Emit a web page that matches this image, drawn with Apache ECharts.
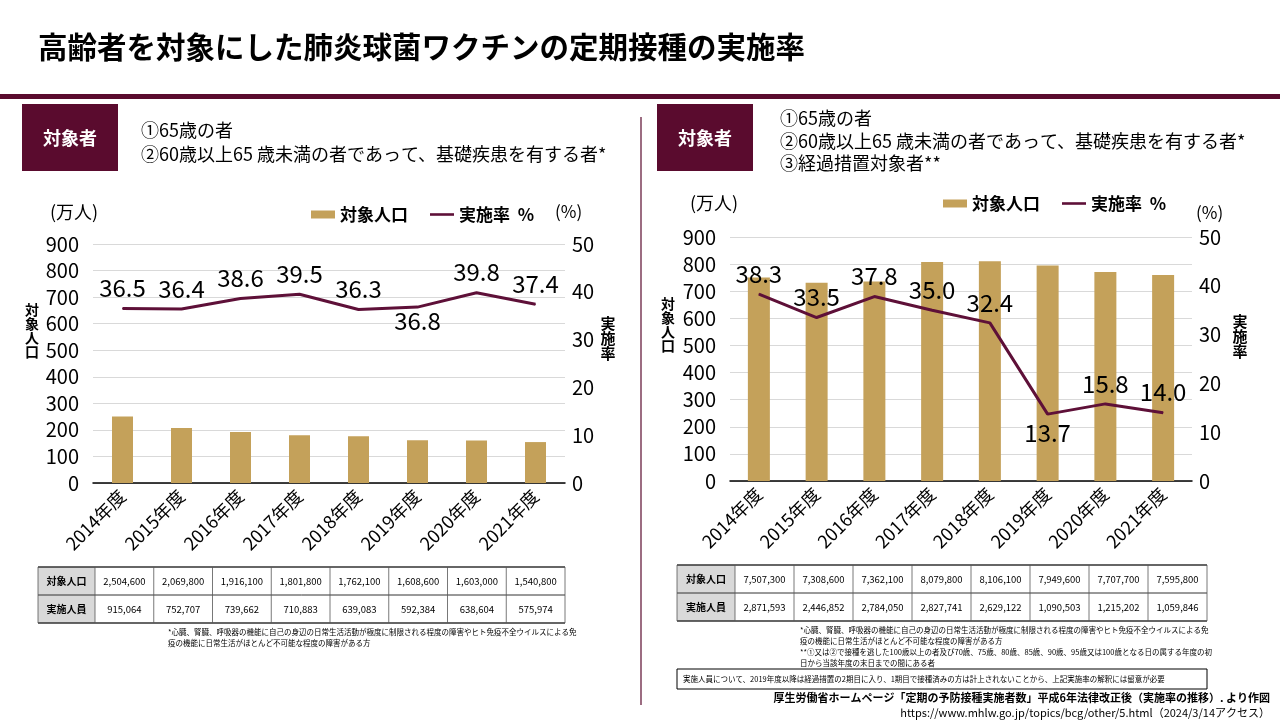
<!DOCTYPE html>
<html><head><meta charset="utf-8">
<script src="https://cdn.jsdelivr.net/npm/echarts@6/dist/echarts.min.js"></script>
<style>html,body{margin:0;padding:0;background:#fff}#c{width:1280px;height:720px}</style>
</head><body><div id="c"></div>
<script>
// ---------- data ----------
const categories = ['2014年度','2015年度','2016年度','2017年度','2018年度','2019年度','2020年度','2021年度'];
const leftPopulation = [250.5, 207.0, 191.6, 180.2, 176.2, 160.9, 160.3, 154.1];   // 万人
const leftRate = [36.5, 36.4, 38.6, 39.5, 36.3, 36.8, 39.8, 37.4];                  // %
const rightPopulation = [750.7, 730.9, 736.2, 808.0, 810.6, 795.0, 770.8, 759.6];  // 万人
const rightRate = [38.3, 33.5, 37.8, 35.0, 32.4, 13.7, 15.8, 14.0];                 // %
const leftLabelBelow = [5];
const rightLabelBelow = [5];
const leftAxisTicks = [0, 900, 100];
const rateAxisTicks = [0, 50, 10];
const tableRowNames = ['対象人口', '実施人員'];
const leftTablePop = ['2,504,600','2,069,800','1,916,100','1,801,800','1,762,100','1,608,600','1,603,000','1,540,800'];
const leftTableDone = ['915,064','752,707','739,662','710,883','639,083','592,384','638,604','575,974'];
const rightTablePop = ['7,507,300','7,308,600','7,362,100','8,079,800','8,106,100','7,949,600','7,707,700','7,595,800'];
const rightTableDone = ['2,871,593','2,446,852','2,784,050','2,827,741','2,629,122','1,090,503','1,215,202','1,059,846'];

// ---------- styles ----------
const FONT = '"Noto Sans CJK JP", "Noto Sans", sans-serif';
const MAROON = '#5a0b2e';
const GOLD = '#c4a15a';
const LINE = '#5e1038';
const BAR_NAME = '対象人口';
const LINE_NAME = '実施率  %';

function rateData(vals, below, dist) {
  return vals.map((v, i) => below.includes(i)
    ? { value: v, label: { position: 'bottom', distance: dist } }
    : v);
}

function txt(x, y, text, font, opts) {
  return { type: 'text', x: x, y: y, silent: true,
    style: Object.assign({ text: text, font: font, fill: '#000' }, opts || {}) };
}

function table(x0, y0, w0, wc, h, rows) {
  const els = [];
  const n = rows[0][1].length;
  const W = w0 + wc * n;
  rows.forEach((r, ri) => {
    const y = y0 + ri * h;
    els.push({ type: 'rect', silent: true, shape: { x: x0, y: y, width: w0, height: h }, style: { fill: '#d9d9d9' } });
    els.push(txt(x0 + w0 / 2, y + h / 2, r[0], 'bold 10px ' + FONT, { align: 'center', verticalAlign: 'middle' }));
    r[1].forEach((v, ci) => {
      els.push(txt(x0 + w0 + wc * ci + wc / 2, y + h / 2, v, '9.5px ' + FONT, { align: 'center', verticalAlign: 'middle' }));
    });
  });
  for (let k = 0; k <= rows.length; k++) {
    els.push({ type: 'line', silent: true, shape: { x1: x0, y1: y0 + k * h, x2: x0 + W, y2: y0 + k * h },
      style: { stroke: '#333', lineWidth: (k === 0 || k === rows.length) ? 1.5 : 1 } });
  }
  for (let c = 0; c <= n + 1; c++) {
    const x = c === 0 ? x0 : x0 + w0 + wc * (c - 1);
    els.push({ type: 'line', silent: true, shape: { x1: x, y1: y0, x2: x, y2: y0 + rows.length * h },
      style: { stroke: '#555', lineWidth: 0.8 } });
  }
  return els;
}

const graphics = [
  txt(38, 47, '高齢者を対象にした肺炎球菌ワクチンの定期接種の実施率', 'bold 29.5px ' + FONT, { verticalAlign: 'middle' }),
  { type: 'rect', silent: true, shape: { x: 0, y: 94, width: 1280, height: 5 }, style: { fill: MAROON } },
  { type: 'line', silent: true, shape: { x1: 641, y1: 117, x2: 641, y2: 705 }, style: { stroke: MAROON, lineWidth: 1.2 } },
  // left header
  { type: 'rect', silent: true, shape: { x: 22, y: 104, width: 96, height: 67 }, style: { fill: MAROON } },
  txt(70, 138, '対象者', 'bold 18px ' + FONT, { fill: '#fff', align: 'center', verticalAlign: 'middle' }),
  txt(141, 130, '①65歳の者', '18px ' + FONT, { verticalAlign: 'middle' }),
  txt(141, 154, '②60歳以上65 歳未満の者であって、基礎疾患を有する者*', '18px ' + FONT, { verticalAlign: 'middle' }),
  // right header
  { type: 'rect', silent: true, shape: { x: 657, y: 104, width: 96, height: 67 }, style: { fill: MAROON } },
  txt(705, 138, '対象者', 'bold 18px ' + FONT, { fill: '#fff', align: 'center', verticalAlign: 'middle' }),
  txt(780, 118, '①65歳の者', '18px ' + FONT, { verticalAlign: 'middle' }),
  txt(780, 141, '②60歳以上65 歳未満の者であって、基礎疾患を有する者*', '18px ' + FONT, { verticalAlign: 'middle' }),
  txt(780, 163, '③経過措置対象者**', '18px ' + FONT, { verticalAlign: 'middle' }),
  // axis units / names
  txt(50, 212, '(万人)', '18px ' + FONT, { verticalAlign: 'middle' }),
  txt(555, 212, '(%)', '17px ' + FONT, { verticalAlign: 'middle' }),
  txt(32, 303, '対\n象\n人\n口', 'bold 14px ' + FONT, { align: 'center', lineHeight: 14 }),
  txt(608, 316, '実\n施\n率', 'bold 15px ' + FONT, { align: 'center', lineHeight: 15 }),
  txt(690, 203, '(万人)', '18px ' + FONT, { verticalAlign: 'middle' }),
  txt(1196, 213, '(%)', '17px ' + FONT, { verticalAlign: 'middle' }),
  txt(668, 297, '対\n象\n人\n口', 'bold 14px ' + FONT, { align: 'center', lineHeight: 14 }),
  txt(1240, 314, '実\n施\n率', 'bold 15px ' + FONT, { align: 'center', lineHeight: 15 }),
  // footnotes
  txt(168, 627, '*心臓、腎臓、呼吸器の機能に自己の身辺の日常生活活動が極度に制限される程度の障害やヒト免疫不全ウイルスによる免\n疫の機能に日常生活がほとんど不可能な程度の障害がある方', '7.5px ' + FONT, { lineHeight: 11 }),
  txt(800, 625, '*心臓、腎臓、呼吸器の機能に自己の身辺の日常生活活動が極度に制限される程度の障害やヒト免疫不全ウイルスによる免\n疫の機能に日常生活がほとんど不可能な程度の障害がある方\n**①又は②で接種を逃した100歳以上の者及び70歳、75歳、80歳、85歳、90歳、95歳又は100歳となる日の属する年度の初\n日から当該年度の末日までの間にある者', '7.5px ' + FONT, { lineHeight: 11 }),
  { type: 'rect', silent: true, shape: { x: 677, y: 669, width: 530, height: 20 }, style: { fill: 'none', stroke: '#000', lineWidth: 1 } },
  txt(683, 679, '実施人員について、2019年度以降は経過措置の2期目に入り、1期目で接種済みの方は計上されないことから、上記実施率の解釈には留意が必要', '7.5px ' + FONT, { verticalAlign: 'middle' }),
  txt(1270, 698, '厚生労働省ホームページ「定期の予防接種実施者数」平成6年法律改正後（実施率の推移）. より作図', 'bold 11px ' + FONT, { align: 'right', verticalAlign: 'middle' }),
  txt(1270, 713, 'https://www.mhlw.go.jp/topics/bcg/other/5.html（2024/3/14アクセス）', '11px ' + FONT, { align: 'right', verticalAlign: 'middle' })
].concat(
  table(38, 567, 57, 58.75, 28, [[tableRowNames[0], leftTablePop], [tableRowNames[1], leftTableDone]]),
  table(677, 565, 58, 59, 28, [[tableRowNames[0], rightTablePop], [tableRowNames[1], rightTableDone]])
);

function xAxis(gi) {
  return {
    type: 'category', gridIndex: gi, data: categories,
    axisLine: { lineStyle: { color: '#000', width: 1.5 } },
    axisTick: { show: false },
    axisLabel: { interval: 0, rotate: 45, color: '#000', fontSize: 18, fontFamily: FONT, margin: 10 }
  };
}
function yLeft(gi) {
  return {
    type: 'value', gridIndex: gi, min: leftAxisTicks[0], max: leftAxisTicks[1], interval: leftAxisTicks[2],
    axisLine: { show: false }, axisTick: { show: false },
    axisLabel: { color: '#000', fontSize: 20, fontFamily: FONT, margin: 14 },
    splitLine: { lineStyle: { color: '#d9d9d9', width: 1 } }
  };
}
function yRight(gi) {
  return {
    type: 'value', gridIndex: gi, position: 'right', min: rateAxisTicks[0], max: rateAxisTicks[1], interval: rateAxisTicks[2],
    axisLine: { show: false }, axisTick: { show: false },
    axisLabel: { color: '#000', fontSize: 20, fontFamily: FONT, margin: 7 },
    splitLine: { show: false }
  };
}
const lineLabel = { show: true, position: 'top', distance: 8, color: '#000', fontSize: 24, fontFamily: FONT,
  formatter: p => Number(p.value).toFixed(1) };

function legend(left, top) {
  return {
    left: left, top: top, itemWidth: 24, itemHeight: 8, itemGap: 22, selectedMode: false,
    textStyle: { color: '#000', fontSize: 17, fontWeight: 'bold', fontFamily: FONT },
    data: [
      { name: BAR_NAME, icon: 'rect' },
      { name: LINE_NAME, icon: 'path://M0,0 L24,0 L24,2.6 L0,2.6 Z', itemStyle: { color: LINE } }
    ]
  };
}

function lineSeries(xi, yi, vals, below, dist) {
  return { name: LINE_NAME, type: 'line', xAxisIndex: xi, yAxisIndex: yi, data: rateData(vals, below, dist),
    symbol: 'circle', symbolSize: 1, showSymbol: true,
    lineStyle: { color: LINE, width: 3 }, itemStyle: { color: LINE }, label: lineLabel, z: 5 };
}

const option = {
  animation: false,
  backgroundColor: '#fff',
  textStyle: { fontFamily: FONT },
  legend: [legend(306, 201), legend(938, 190)],
  grid: [
    { left: 93, right: 1280 - 565, top: 244, bottom: 720 - 483 },
    { left: 730, right: 1280 - 1192, top: 237, bottom: 720 - 481 }
  ],
  xAxis: [xAxis(0), xAxis(1)],
  yAxis: [yLeft(0), yRight(0), yLeft(1), yRight(1)],
  series: [
    { name: BAR_NAME, type: 'bar', xAxisIndex: 0, yAxisIndex: 0, data: leftPopulation, barWidth: 21,
      itemStyle: { color: GOLD } },
    lineSeries(0, 1, leftRate, leftLabelBelow, 1),
    { name: BAR_NAME, type: 'bar', xAxisIndex: 1, yAxisIndex: 2, data: rightPopulation, barWidth: 22,
      itemStyle: { color: GOLD } },
    lineSeries(1, 3, rightRate, rightLabelBelow, 6)
  ],
  graphic: graphics
};

const chart = echarts.init(document.getElementById('c'), null, { renderer: 'canvas' });
chart.setOption(option);
</script>
</body></html>
